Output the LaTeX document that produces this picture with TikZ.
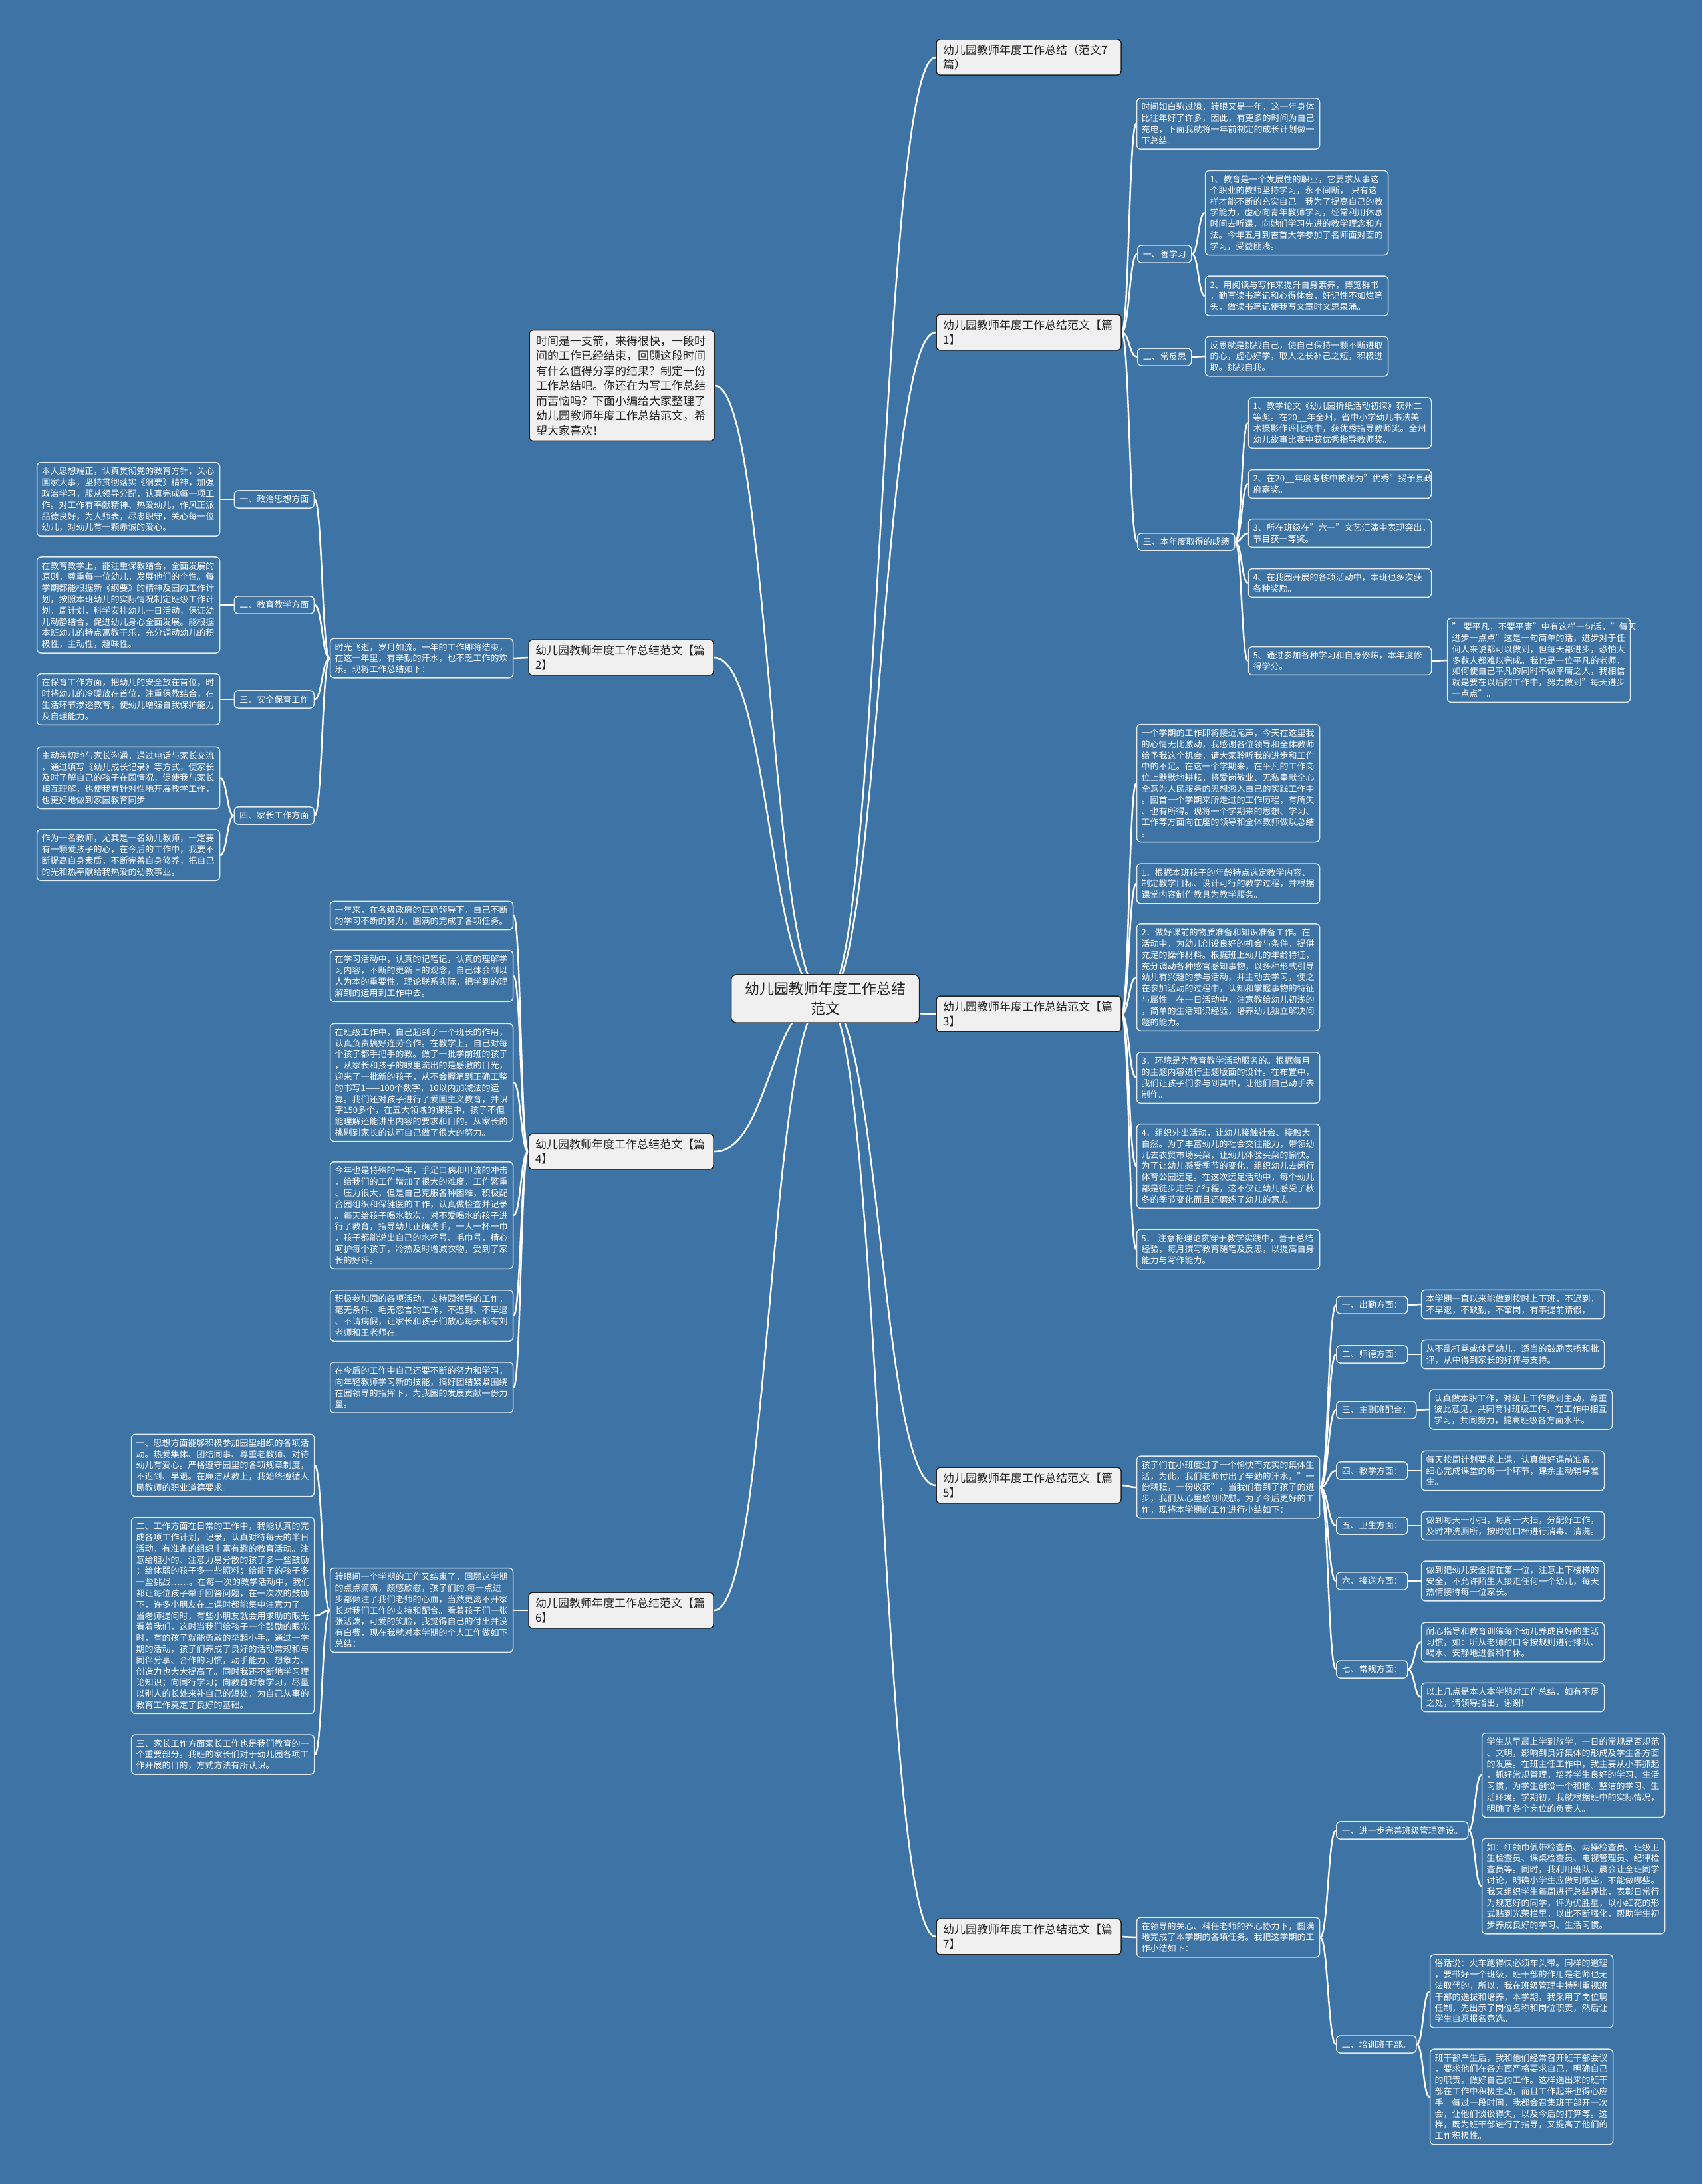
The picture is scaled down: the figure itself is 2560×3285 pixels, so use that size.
\documentclass[tikz,border=0pt]{standalone}
\usepackage{fontspec}
\setmainfont{Noto Sans CJK SC}
\usetikzlibrary{calc,backgrounds}
\definecolor{board}{RGB}{61,115,165}
\definecolor{rim}{RGB}{226,236,246}
\definecolor{paper}{RGB}{240,240,240}
\definecolor{ink}{RGB}{35,35,35}
% curved link from one anchor to another, bending half way
\newcommand{\lnk}[2]{\draw[link] (#1) .. controls ($(#1)!.5!(#2 |- #1)$) and ($(#2)!.5!(#1 |- #2)$) .. (#2);}

\begin{document}
\begin{tikzpicture}[x=1pt, y=-1pt,
    hub/.style={draw=ink, line width=1.5pt, fill=paper, text=ink, rounded corners=8pt,
                align=center, minimum width=283pt, inner xsep=12pt, inner ysep=11pt,
                font=\fontsize{22pt}{30pt}\selectfont},
    topic/.style={draw=ink, line width=1.5pt, fill=paper, text=ink, rounded corners=6pt,
                align=left, text width=258pt, inner xsep=10pt, inner ysep=8pt,
                font=\fontsize{17pt}{22pt}\selectfont},
    note/.style={draw=rim, line width=1.5pt, fill=board, text=white, rounded corners=6pt,
                align=left, text width=261pt, inner xsep=7pt, inner ysep=7pt,
                font=\fontsize{13pt}{16.8pt}\selectfont},
    tag/.style={draw=rim, line width=1.5pt, fill=board, text=white, rounded corners=6pt,
                inner xsep=8pt, inner ysep=7pt, font=\fontsize{13pt}{16.8pt}\selectfont},
    link/.style={draw=white, line width=2.5pt}
  ]
  \begin{scope}[on background layer]
    \fill[board] (0,0) rectangle (2560,3285);
  \end{scope}
  \useasboundingbox (0,0) rectangle (2560,3285);

  % ================= ROOT AND TOPICS =================
  \node[hub] (r) at (1241,1502) {幼儿园教师年度工作总结\\范文};

  \node[topic] (t0) at (1547,86)   {幼儿园教师年度工作总结（范文7\\篇）};
  \node[topic] (t1) at (1547,500)  {幼儿园教师年度工作总结范文【篇\\1】};
  \node[topic] (t2) at (934,989)   {幼儿园教师年度工作总结范文【篇\\2】};
  \node[topic] (t3) at (1547,1525) {幼儿园教师年度工作总结范文【篇\\3】};
  \node[topic] (t4) at (934,1732)  {幼儿园教师年度工作总结范文【篇\\4】};
  \node[topic] (t5) at (1547,2234) {幼儿园教师年度工作总结范文【篇\\5】};
  \node[topic] (t6) at (934,2422)  {幼儿园教师年度工作总结范文【篇\\6】};
  \node[topic] (t7) at (1547,2913) {幼儿园教师年度工作总结范文【篇\\7】};

  \node[topic, font=\fontsize{17pt}{22.5pt}\selectfont] (intro) at (935,580) {%
    时间是一支箭，来得很快，一段时\\间的工作已经结束，回顾这段时间\\
    有什么值得分享的结果？制定一份\\工作总结吧。你还在为写工作总结\\
    而苦恼吗？下面小编给大家整理了\\幼儿园教师年度工作总结范文，希\\
    望大家喜欢！};

  % ================= PIECE 1 =================
  \node[note] (b1in) at (1847,186) {%
    时间如白驹过隙，转眼又是一年，这一年身体\\比往年好了许多，因此，有更多的时间为自己\\
    充电，下面我就将一年前制定的成长计划做一\\下总结。};
  \node[tag, anchor=west] (b1s1) at (1710,382) {一、善学习};
  \node[note] (b1s1a) at (1950,320) {%
    1、教育是一个发展性的职业，它要求从事这\\个职业的教师坚持学习，永不间断， 只有这\\
    样才能不断的充实自己。我为了提高自己的教\\学能力，虚心向青年教师学习，经常利用休息\\
    时间去听课，向她们学习先进的教学理念和方\\法。今年五月到吉首大学参加了名师面对面的\\
    学习，受益匪浅。};
  \node[note] (b1s1b) at (1950,445) {%
    2、用阅读与写作来提升自身素养，博览群书\\，勤写读书笔记和心得体会，好记性不如烂笔\\
    头，做读书笔记使我写文章时文思泉涌。};
  \node[tag, anchor=west] (b1s2) at (1710,537) {二、常反思};
  \node[note] (b1s2a) at (1950,536) {%
    反思就是挑战自己，使自己保持一颗不断进取\\的心，虚心好学，取人之长补己之短，积极进\\
    取。挑战自我。};
  \node[tag, anchor=west] (b1s3) at (1710,815) {三、本年度取得的成绩};
  \node[note] (b1g1) at (2015,636) {%
    1、教学论文《幼儿园折纸活动初探》获州二\\等奖。在20\_\_年全州，省中小学幼儿书法美\\
    术摄影作评比赛中，获优秀指导教师奖。全州\\幼儿故事比赛中获优秀指导教师奖。};
  \node[note] (b1g2) at (2015,728) {2、在20\_\_年度考核中被评为"优秀"授予县政\\府嘉奖。};
  \node[note] (b1g3) at (2015,802) {3、所在班级在"六一"文艺汇演中表现突出，\\节目获一等奖。};
  \node[note] (b1g4) at (2015,877) {4、在我园开展的各项活动中，本班也多次获\\各种奖励。};
  \node[note] (b1g5) at (2015,994) {5、通过参加各种学习和自身修炼，本年度修\\得学分。};
  \node[note] (b1far) at (2314,993) {%
    " 要平凡，不要平庸"中有这样一句话，"每天\\进步一点点"这是一句简单的话，进步对于任\\
    何人来说都可以做到，但每天都进步，恐怕大\\多数人都难以完成。我也是一位平凡的老师，\\
    如何使自己平凡的同时不做平庸之人，我相信\\就是要在以后的工作中，努力做到"每天进步\\
    一点点"。};

  % ================= PIECE 2 =================
  \node[note] (b2in) at (634,990) {%
    时光飞逝，岁月如流。一年的工作即将结束，\\在这一年里，有辛勤的汗水，也不乏工作的欢\\
    乐。现将工作总结如下：};
  \node[tag, anchor=east] (b2s1) at (473,751)  {一、政治思想方面};
  \node[tag, anchor=east] (b2s2) at (473,910)  {二、教育教学方面};
  \node[tag, anchor=east] (b2s3) at (473,1052) {三、安全保育工作};
  \node[tag, anchor=east] (b2s4) at (473,1227) {四、家长工作方面};
  \node[note] (b2s1a) at (193,751) {%
    本人思想端正，认真贯彻党的教育方针，关心\\国家大事，坚持贯彻落实《纲要》精神，加强\\
    政治学习，服从领导分配，认真完成每一项工\\作。对工作有奉献精神、热爱幼儿，作风正派\\
    品德良好，为人师表，尽忠职守，关心每一位\\幼儿，对幼儿有一颗赤诚的爱心。};
  \node[note] (b2s2a) at (193,910) {%
    在教育教学上，能注重保教结合，全面发展的\\原则，尊重每一位幼儿，发展他们的个性。每\\
    学期都能根据新《纲要》的精神及园内工作计\\划，按照本班幼儿的实际情况制定班级工作计\\
    划，周计划，科学安排幼儿一日活动，保证幼\\儿动静结合，促进幼儿身心全面发展。能根据\\
    本班幼儿的特点寓教于乐，充分调动幼儿的积\\极性，主动性，趣味性。};
  \node[note] (b2s3a) at (193,1052) {%
    在保育工作方面，把幼儿的安全放在首位，时\\时将幼儿的冷暖放在首位，注重保教结合，在\\
    生活环节渗透教育，使幼儿增强自我保护能力\\及自理能力。};
  \node[note] (b2s4a) at (193,1170) {%
    主动亲切地与家长沟通，通过电话与家长交流\\，通过填写《幼儿成长记录》等方式，使家长\\
    及时了解自己的孩子在园情况，促使我与家长\\相互理解，也使我有针对性地开展教学工作，\\
    也更好地做到家园教育同步};
  \node[note] (b2s4b) at (193,1286) {%
    作为一名教师，尤其是一名幼儿教师，一定要\\有一颗爱孩子的心，在今后的工作中，我要不\\
    断提高自身素质，不断完善自身修养，把自己\\的光和热奉献给我热爱的幼教事业。};

  % ================= PIECE 3 =================
  \node[note] (b3a) at (1847,1178) {%
    一个学期的工作即将接近尾声，今天在这里我\\的心情无比激动，我感谢各位领导和全体教师\\
    给予我这个机会，请大家聆听我的进步和工作\\中的不足。在这一个学期来，在平凡的工作岗\\
    位上默默地耕耘，将爱岗敬业、无私奉献全心\\全意为人民服务的思想溶入自己的实践工作中\\
    。回首一个学期来所走过的工作历程，有所失\\、也有所得。现将一个学期来的思想、学习、\\
    工作等方面向在座的领导和全体教师做以总结\\。};
  \node[note] (b3b) at (1847,1329) {%
    1．根据本班孩子的年龄特点选定教学内容、\\制定教学目标、设计可行的教学过程，并根据\\
    课堂内容制作教具为教学服务。};
  \node[note] (b3c) at (1847,1470) {%
    2．做好课前的物质准备和知识准备工作。在\\活动中，为幼儿创设良好的机会与条件，提供\\
    充足的操作材料。根据班上幼儿的年龄特征，\\充分调动各种感官感知事物，以多种形式引导\\
    幼儿有兴趣的参与活动，并主动去学习，使之\\在参加活动的过程中，认知和掌握事物的特征\\
    与属性。在一日活动中，注意教给幼儿初浅的\\，简单的生活知识经验，培养幼儿独立解决问\\
    题的能力。};
  \node[note] (b3d) at (1847,1621) {%
    3．环境是为教育教学活动服务的。根据每月\\的主题内容进行主题版面的设计。在布置中，\\
    我们让孩子们参与到其中，让他们自己动手去\\制作。};
  \node[note] (b3e) at (1847,1754) {%
    4．组织外出活动，让幼儿接触社会、接触大\\自然。为了丰富幼儿的社会交往能力，带领幼\\
    儿去农贸市场买菜，让幼儿体验买菜的愉快。\\为了让幼儿感受季节的变化，组织幼儿去闵行\\
    体育公园远足。在这次远足活动中，每个幼儿\\都是徒步走完了行程，这不仅让幼儿感受了秋\\
    冬的季节变化而且还磨练了幼儿的意志。};
  \node[note] (b3f) at (1847,1879) {%
    5． 注意将理论贯穿于教学实践中，善于总结\\经验，每月撰写教育随笔及反思，以提高自身\\
    能力与写作能力。};

  % ================= PIECE 4 =================
  \node[note] (b4a) at (634,1377) {%
    一年来，在各级政府的正确领导下，自己不断\\的学习不断的努力，圆满的完成了各项任务。};
  \node[note] (b4b) at (634,1468) {%
    在学习活动中，认真的记笔记，认真的理解学\\习内容，不断的更新旧的观念，自己体会到以\\
    人为本的重要性，理论联系实际，把学到的理\\解到的运用到工作中去。};
  \node[note] (b4c) at (634,1628) {%
    在班级工作中，自己起到了一个班长的作用，\\认真负责搞好连劳合作。在教学上，自己对每\\
    个孩子都手把手的教。做了一批学前班的孩子\\，从家长和孩子的眼里流出的是感激的目光，\\
    迎来了一批新的孩子，从不会握笔到正确工整\\的书写1——100个数字，10以内加减法的运\\
    算。我们还对孩子进行了爱国主义教育，并识\\字150多个，在五大领域的课程中，孩子不但\\
    能理解还能讲出内容的要求和目的。从家长的\\挑剔到家长的认可自己做了很大的努力。};
  \node[note] (b4d) at (634,1828) {%
    今年也是特殊的一年，手足口病和甲流的冲击\\，给我们的工作增加了很大的难度，工作繁重\\
    、压力很大，但是自己克服各种困难，积极配\\合园组织和保健医的工作，认真做检查并记录\\
    。每天给孩子喝水数次，对不爱喝水的孩子进\\行了教育，指导幼儿正确洗手，一人一杯一巾\\
    ，孩子都能说出自己的水杯号、毛巾号，精心\\呵护每个孩子，冷热及时增减衣物，受到了家\\
    长的好评。};
  \node[note] (b4e) at (634,1979) {%
    积极参加园的各项活动，支持园领导的工作，\\毫无条件、毛无怨言的工作，不迟到、不早退\\
    、不请病假，让家长和孩子们放心每天都有刘\\老师和王老师在。};
  \node[note] (b4f) at (634,2087) {%
    在今后的工作中自己还要不断的努力和学习，\\向年轻教师学习新的技能，搞好团结紧紧围绕\\
    在园领导的指挥下，为我园的发展贡献一份力\\量。};

  % ================= PIECE 5 =================
  \node[note] (b5in) at (1847,2237) {%
    孩子们在小班度过了一个愉快而充实的集体生\\活，为此，我们老师付出了辛勤的汗水，"一\\
    份耕耘，一份收获"，当我们看到了孩子的进\\步，我们从心里感到欣慰。为了今后更好的工\\
    作，现将本学期的工作进行小结如下：};
  \node[tag, anchor=west] (b5s1) at (2009,1963) {一、出勤方面：};
  \node[tag, anchor=west] (b5s2) at (2009,2037) {二、师德方面：};
  \node[tag, anchor=west] (b5s3) at (2009,2121) {三、主副班配合：};
  \node[tag, anchor=west] (b5s4) at (2009,2212) {四、教学方面：};
  \node[tag, anchor=west] (b5s5) at (2009,2295) {五、卫生方面：};
  \node[tag, anchor=west] (b5s6) at (2009,2378) {六、接送方面：};
  \node[tag, anchor=west] (b5s7) at (2009,2511) {七、常规方面：};
  \node[note] (b5s1a) at (2275,1962) {本学期一直以来能做到按时上下班，不迟到，\\不早退，不缺勤，不窜岗，有事提前请假，};
  \node[note] (b5s2a) at (2275,2037) {从不乱打骂或体罚幼儿，适当的鼓励表扬和批\\评，从中得到家长的好评与支持。};
  \node[note] (b5s3a) at (2287,2120) {%
    认真做本职工作，对级上工作做到主动，尊重\\彼此意见，共同商讨班级工作，在工作中相互\\
    学习，共同努力，提高班级各方面水平。};
  \node[note] (b5s4a) at (2275,2212) {%
    每天按周计划要求上课，认真做好课前准备，\\细心完成课堂的每一个环节，课余主动辅导差\\生。};
  \node[note] (b5s5a) at (2275,2295) {做到每天一小扫，每周一大扫，分配好工作，\\及时冲洗厕所，按时给口杯进行消毒、清洗。};
  \node[note] (b5s6a) at (2275,2378) {%
    做到把幼儿安全摆在第一位，注意上下楼梯的\\安全，不允许陌生人接走任何一个幼儿，每天\\
    热情接待每一位家长。};
  \node[note] (b5s7a) at (2275,2470) {%
    耐心指导和教育训练每个幼儿养成良好的生活\\习惯，如：听从老师的口令按规则进行排队、\\
    喝水、安静地进餐和午休。};
  \node[note] (b5s7b) at (2275,2553) {以上几点是本人本学期对工作总结，如有不足\\之处，请领导指出，谢谢!};

  % ================= PIECE 6 =================
  \node[note] (b6in) at (634,2422) {%
    转眼间一个学期的工作又结束了，回顾这学期\\的点点滴滴，颇感欣慰，孩子们的.每一点进\\
    步都倾注了我们老师的心血，当然更离不开家\\长对我们工作的支持和配合。看着孩子们一张\\
    张活泼，可爱的笑脸，我觉得自己的付出并没\\有白费，现在我就对本学期的个人工作做如下\\
    总结：};
  \node[note] (b6a) at (335,2204) {%
    一、思想方面能够积极参加园里组织的各项活\\动。热爱集体、团结同事、尊重老教师、对待\\
    幼儿有爱心。严格遵守园里的各项规章制度，\\不迟到、早退。在廉洁从教上，我始终遵循人\\
    民教师的职业道德要求。};
  \node[note] (b6b) at (335,2430) {%
    二、工作方面在日常的工作中，我能认真的完\\成各项工作计划，记录，认真对待每天的半日\\
    活动，有准备的组织丰富有趣的教育活动。注\\意给胆小的、注意力易分散的孩子多一些鼓励\\
    ；给体弱的孩子多一些照料；给能干的孩子多\\一些挑战……。在每一次的教学活动中，我们\\
    都让每位孩子举手回答问题，在一次次的鼓励\\下，许多小朋友在上课时都能集中注意力了。\\
    当老师提问时，有些小朋友就会用求助的眼光\\看着我们，这时当我们给孩子一个鼓励的眼光\\
    时，有的孩子就能勇敢的举起小手。通过一学\\期的活动，孩子们养成了良好的活动常规和与\\
    同伴分享、合作的习惯，动手能力、想象力、\\创造力也大大提高了。同时我还不断地学习理\\
    论知识；向同行学习；向教育对象学习，尽量\\以别人的长处来补自己的短处，为自己从事的\\
    教育工作奠定了良好的基础。};
  \node[note] (b6c) at (335,2639) {%
    三、家长工作方面家长工作也是我们教育的一\\个重要部分。我班的家长们对于幼儿园各项工\\
    作开展的目的，方式方法有所认识。};

  % ================= PIECE 7 =================
  \node[note] (b7in) at (1847,2914) {%
    在领导的关心、科任老师的齐心协力下，圆满\\地完成了本学期的各项任务。我把这学期的工\\
    作小结如下：};
  \node[tag, anchor=west] (b7s1) at (2009,2753) {一、进一步完善班级管理建设。};
  \node[tag, anchor=west] (b7s2) at (2009,3075) {二、培训班干部。};
  \node[note] (b7s1a) at (2366,2670) {%
    学生从早晨上学到放学，一日的常规是否规范\\、文明，影响到良好集体的形成及学生各方面\\
    的发展。在班主任工作中，我主要从小事抓起\\，抓好常规管理，培养学生良好的学习、生活\\
    习惯，为学生创设一个和谐、整洁的学习、生\\活环境。学期初，我就根据班中的实际情况，\\
    明确了各个岗位的负责人。};
  \node[note] (b7s1b) at (2366,2837) {%
    如：红领巾佩带检查员、两操检查员、班级卫\\生检查员、课桌检查员、电视管理员、纪律检\\
    查员等。同时，我利用班队、晨会让全班同学\\讨论，明确小学生应做到哪些，不能做哪些。\\
    我又组织学生每周进行总结评比，表彰日常行\\为规范好的同学，评为优胜星，以小红花的形\\
    式贴到光荣栏里，以此不断强化，帮助学生初\\步养成良好的学习、生活习惯。};
  \node[note] (b7s2a) at (2288,2995) {%
    俗话说：火车跑得快必须车头带。同样的道理\\，要带好一个班级，班干部的作用是老师也无\\
    法取代的，所以，我在班级管理中特别重视班\\干部的选拔和培养，本学期，我采用了岗位聘\\
    任制，先出示了岗位名称和岗位职责，然后让\\学生自愿报名竞选。};
  \node[note] (b7s2b) at (2288,3154) {%
    班干部产生后，我和他们经常召开班干部会议\\，要求他们在各方面严格要求自己，明确自己\\
    的职责，做好自己的工作。这样选出来的班干\\部在工作中积极主动，而且工作起来也得心应\\
    手。每过一段时间，我都会召集班干部开一次\\会，让他们谈谈得失，以及今后的打算等。这\\
    样，既为班干部进行了指导，又提高了他们的\\工作积极性。};

  % ================= LINKS (behind the boxes) =================
  \begin{scope}[on background layer]
    % root to topics, from the centre of the root
    \foreach \t in {t0,t1,t3,t5,t7} {\lnk{r.center}{\t.west}}
    \foreach \t in {intro,t2,t4,t6} {\lnk{r.center}{\t.east}}

    % piece 1
    \foreach \c in {b1in,b1s1,b1s2,b1s3} {\lnk{t1.east}{\c.west}}
    \lnk{b1s1.east}{b1s1a.west}
    \lnk{b1s1.east}{b1s1b.west}
    \lnk{b1s2.east}{b1s2a.west}
    \foreach \c in {b1g1,b1g2,b1g3,b1g4,b1g5} {\lnk{b1s3.east}{\c.west}}
    \lnk{b1g5.east}{b1far.west}

    % piece 2
    \lnk{t2.west}{b2in.east}
    \foreach \c in {b2s1,b2s2,b2s3,b2s4} {\lnk{b2in.west}{\c.east}}
    \lnk{b2s1.west}{b2s1a.east}
    \lnk{b2s2.west}{b2s2a.east}
    \lnk{b2s3.west}{b2s3a.east}
    \lnk{b2s4.west}{b2s4a.east}
    \lnk{b2s4.west}{b2s4b.east}

    % piece 3
    \foreach \c in {b3a,b3b,b3c,b3d,b3e,b3f} {\lnk{t3.east}{\c.west}}

    % piece 4
    \foreach \c in {b4a,b4b,b4c,b4d,b4e,b4f} {\lnk{t4.west}{\c.east}}

    % piece 5
    \lnk{t5.east}{b5in.west}
    \foreach \i in {1,...,7} {\lnk{b5in.east}{b5s\i.west}}
    \foreach \i in {1,...,6} {\lnk{b5s\i.east}{b5s\i a.west}}
    \lnk{b5s7.east}{b5s7a.west}
    \lnk{b5s7.east}{b5s7b.west}

    % piece 6
    \lnk{t6.west}{b6in.east}
    \foreach \c in {b6a,b6b,b6c} {\lnk{b6in.west}{\c.east}}

    % piece 7
    \lnk{t7.east}{b7in.west}
    \lnk{b7in.east}{b7s1.west}
    \lnk{b7in.east}{b7s2.west}
    \lnk{b7s1.east}{b7s1a.west}
    \lnk{b7s1.east}{b7s1b.west}
    \lnk{b7s2.east}{b7s2a.west}
    \lnk{b7s2.east}{b7s2b.west}
  \end{scope}
\end{tikzpicture}
\end{document}
